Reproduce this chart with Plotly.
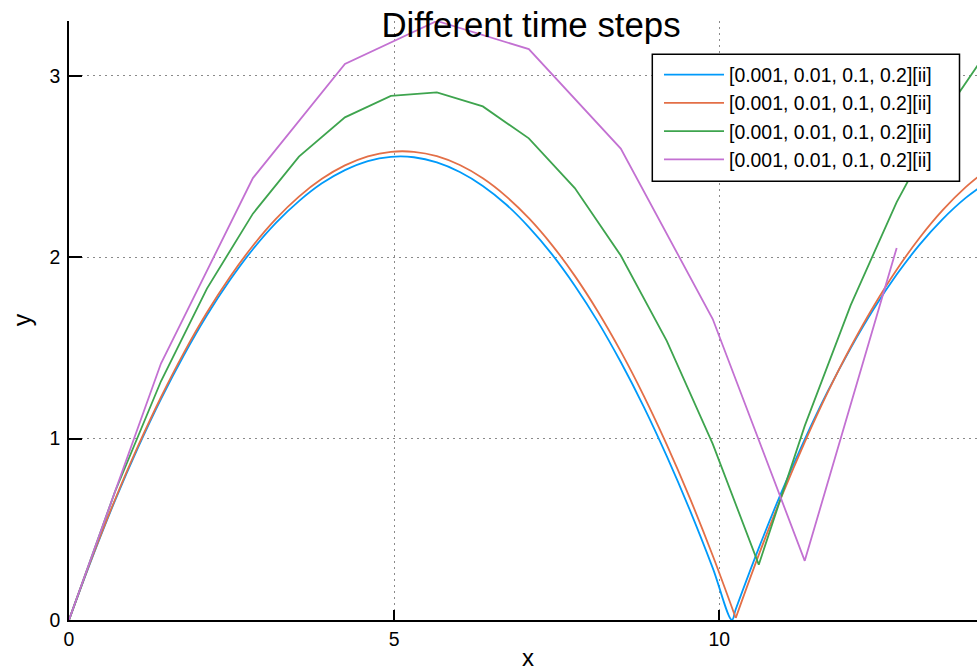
import plotly.graph_objects as go

# Ball trajectory (height y against horizontal distance x) for four time steps.
# Fine-step runs, sampled every 0.05 s of flight time.
x_dt0001 = [0.000, 0.354, 0.707, 1.061, 1.414, 1.768, 2.121, 2.475, 2.828, 3.182,
            3.536, 3.889, 4.243, 4.596, 4.950, 5.303, 5.657, 6.010, 6.364, 6.718,
            7.071, 7.425, 7.778, 8.132, 8.485, 8.839, 9.192, 9.546, 9.900, 10.194,
            10.253, 10.607, 10.960, 11.314, 11.667, 12.021, 12.374, 12.728, 13.081,
            13.435, 13.789, 14.142]
y_dt0001 = [0.000, 0.341, 0.658, 0.950, 1.218, 1.461, 1.680, 1.874, 2.044, 2.189,
            2.309, 2.407, 2.480, 2.530, 2.553, 2.551, 2.523, 2.470, 2.393, 2.292,
            2.166, 2.017, 1.843, 1.645, 1.422, 1.175, 0.903, 0.607, 0.286, 0.000,
            0.059, 0.396, 0.708, 0.996, 1.260, 1.499, 1.714, 1.904, 2.069,
            2.210, 2.327, 2.419]

x_dt001 = [0.000, 0.354, 0.707, 1.061, 1.414, 1.768, 2.121, 2.475, 2.828, 3.182,
           3.536, 3.889, 4.243, 4.596, 4.950, 5.303, 5.657, 6.010, 6.364, 6.718,
           7.071, 7.425, 7.778, 8.132, 8.485, 8.839, 9.192, 9.546, 9.900,
           10.253, 10.607, 10.960, 11.314, 11.667, 12.021, 12.374, 12.728, 13.081,
           13.435, 13.789, 14.142]
y_dt001 = [0.000, 0.344, 0.663, 0.958, 1.228, 1.474, 1.695, 1.891, 2.063, 2.211,
           2.334, 2.432, 2.506, 2.556, 2.581, 2.581, 2.557, 2.508, 2.435, 2.337,
           2.215, 2.068, 1.897, 1.701, 1.481, 1.236, 0.967, 0.673, 0.354,
           0.011, 0.359, 0.682, 0.981, 1.255, 1.505, 1.730, 1.931, 2.107,
           2.259, 2.386, 2.489]

# Coarse-step runs: one point per step.
x_dt01 = [0.000, 0.707, 1.414, 2.121, 2.828, 3.536, 4.243, 4.950, 5.657, 6.364,
          7.071, 7.778, 8.485, 9.192, 9.899, 10.607, 11.314, 12.021, 12.728,
          13.435, 14.142]
y_dt01 = [0.000, 0.707, 1.316, 1.827, 2.240, 2.554, 2.771, 2.889, 2.909, 2.831,
          2.655, 2.381, 2.009, 1.539, 0.971, 0.305, 1.070, 1.736, 2.304,
          2.774, 3.146]

x_dt02 = [0.000, 1.414, 2.828, 4.243, 5.657, 7.071, 8.485, 9.899, 11.314, 12.728]
y_dt02 = [0.000, 1.414, 2.436, 3.065, 3.302, 3.147, 2.599, 1.659, 0.326, 2.051]

series_label = "[0.001, 0.01, 0.1, 0.2][ii]"
colors = ["#009AFA", "#E36F47", "#3EA44E", "#C371D2"]

x_ticks = [0, 5, 10]
y_ticks = [0, 1, 2, 3]

FONT = "Liberation Sans, Arial, Helvetica, sans-serif"
LW = 1.8

fig = go.Figure()

# Fine runs: smooth arcs, split at the bounce so the corner stays sharp.
for i, (xs, ys) in enumerate([(x_dt0001, y_dt0001), (x_dt001, y_dt001)]):
    k = ys.index(min(ys[5:]))  # bounce point
    for j, (xa, ya) in enumerate([(xs[:k + 1], ys[:k + 1]), (xs[k:], ys[k:])]):
        fig.add_trace(go.Scatter(
            x=xa, y=ya, mode="lines", name=series_label,
            legendgroup=f"s{i}", showlegend=(j == 0),
            line=dict(color=colors[i], width=LW, shape="spline", smoothing=1)))

# Coarse runs: straight segments between steps.
for i, (xs, ys) in enumerate([(x_dt01, y_dt01), (x_dt02, y_dt02)], start=2):
    fig.add_trace(go.Scatter(x=xs, y=ys, mode="lines", name=series_label,
                             legendgroup=f"s{i}",
                             line=dict(color=colors[i], width=LW)))

axis_common = dict(
    showline=True, linecolor="black", linewidth=1.5,
    ticks="inside", tickcolor="black", tickwidth=1.5,
    showgrid=True, gridcolor="#8a8a8a", gridwidth=1, griddash="2px,4px",
    zeroline=False, mirror=False,
    tickfont=dict(family=FONT, size=19.4, color="black"),
)

fig.update_xaxes(range=[0, 13.963], tickvals=x_ticks, ticklen=10,
                 ticklabelstandoff=1, **axis_common)
fig.update_yaxes(range=[0, 3.302], tickvals=y_ticks, ticklen=13,
                 ticklabelstandoff=3, **axis_common)

# Legend frame drawn as a box over the curves; the legend itself sits on top.
legend_box = dict(type="rect", xref="paper", yref="paper", layer="above",
                  x0=(652.3 - 69) / 908, x1=(959.5 - 69) / 908,
                  y0=(619.5 - 181) / 598.5, y1=(619.5 - 54.3) / 598.5,
                  line=dict(color="black", width=1.5), fillcolor="white")

fig.update_layout(
    width=977, height=672,
    margin=dict(l=69, r=0, t=21, b=52, pad=0),
    plot_bgcolor="white", paper_bgcolor="white",
    font=dict(family=FONT, color="black"),
    title=dict(text="Different time steps", font=dict(size=34.8, color="black"),
               xref="container", x=531 / 977, xanchor="center",
               yref="container", y=1 - 25 / 672, yanchor="middle"),
    legend=dict(x=(659 - 69) / 908, y=(619.5 - 55.5) / 598.5,
                xanchor="left", yanchor="top",
                bgcolor="rgba(0,0,0,0)", borderwidth=0,
                font=dict(size=19.4, color="black"), itemwidth=60,
                tracegroupgap=0),
    shapes=[legend_box],
    annotations=[
        dict(text="x", xref="paper", yref="paper", x=(528 - 69) / 908,
             y=-(657 - 619.5) / 598.5, xanchor="center", yanchor="middle",
             showarrow=False, font=dict(size=24, color="black")),
        dict(text="y", xref="paper", yref="paper", x=-(69 - 22) / 908,
             y=(619.5 - 320) / 598.5, xanchor="center", yanchor="middle",
             textangle=-90, showarrow=False, font=dict(size=25, color="black")),
    ],
)

fig.write_html("out.html")
